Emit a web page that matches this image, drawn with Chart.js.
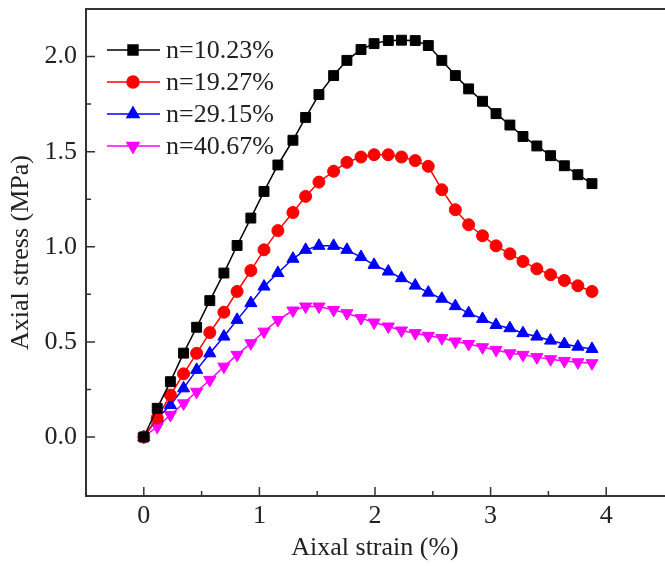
<!DOCTYPE html>
<html>
<head>
<meta charset="utf-8">
<script src="https://cdn.jsdelivr.net/npm/chart.js@4.4.1/dist/chart.umd.min.js"></script>
<style>
html, body { margin: 0; padding: 0; background: #fff; overflow: hidden; }
</style>
</head>
<body>
<canvas id="mychart1" width="672" height="566"></canvas>
<script>
// strain (%) shared by all four curves
const strain = [0, 0.116, 0.23, 0.344, 0.457, 0.571, 0.693, 0.807, 0.926, 1.04,
    1.16, 1.29, 1.40, 1.515, 1.642, 1.757, 1.879, 1.992, 2.115, 2.229,
    2.348, 2.461, 2.578, 2.695, 2.81, 2.93, 3.047, 3.167, 3.28, 3.40,
    3.519, 3.638, 3.755, 3.877];

// axial stress (MPa)
const n1023 = [0, 0.151, 0.291, 0.441, 0.577, 0.717, 0.862, 1.007, 1.151, 1.291,
    1.43, 1.56, 1.68, 1.80, 1.90, 1.98, 2.037, 2.068, 2.084, 2.086,
    2.084, 2.058, 1.98, 1.90, 1.83, 1.765, 1.70, 1.64, 1.58, 1.53,
    1.479, 1.426, 1.379, 1.332];
const n1927 = [0, 0.10, 0.221, 0.332, 0.44, 0.549, 0.656, 0.765, 0.875, 0.984,
    1.085, 1.18, 1.265, 1.34, 1.397, 1.444, 1.472, 1.484, 1.484, 1.472,
    1.453, 1.423, 1.30, 1.195, 1.116, 1.058, 1.005, 0.963, 0.923, 0.884,
    0.853, 0.823, 0.795, 0.765];
const n2915 = [0, 0.098, 0.168, 0.256, 0.353, 0.44, 0.528, 0.616, 0.704, 0.791,
    0.862, 0.937, 0.984, 1.005, 1.005, 0.984, 0.946, 0.905, 0.87, 0.835,
    0.796, 0.759, 0.727, 0.688, 0.651, 0.621, 0.589, 0.572, 0.546, 0.528,
    0.507, 0.489, 0.475, 0.463];
const n4067 = [0, 0.054, 0.116, 0.177, 0.238, 0.30, 0.37, 0.432, 0.493, 0.554,
    0.615, 0.665, 0.686, 0.686, 0.668, 0.651, 0.625, 0.602, 0.581, 0.56,
    0.546, 0.532, 0.52, 0.502, 0.489, 0.472, 0.458, 0.44, 0.432, 0.42,
    0.409, 0.40, 0.393, 0.388];

const names = ['n=10.23%', 'n=19.27%', 'n=29.15%', 'n=40.67%'];
const xTicks = [0, 1, 2, 3, 4];
const xMinor = [0.5, 1.5, 2.5, 3.5];
const yTicks = [0, 0.5, 1.0, 1.5, 2.0];
const yMinor = [0.25, 0.75, 1.25, 1.75];

const FONT = { family: "'Liberation Serif', 'Times New Roman', serif", size: 26 };
const AXIS = '#333';

function pts(ys) {
    return ys.map((v, i) => ({ x: strain[i], y: v }));
}

// left/top/bottom frame with inward ticks
const frame = {
    id: 'frame',
    afterDatasetsDraw(chart) {
        const ctx = chart.ctx;
        const a = chart.chartArea;
        const x = chart.scales.x, y = chart.scales.y;
        ctx.save();
        ctx.strokeStyle = AXIS;
        ctx.lineWidth = 2;
        ctx.beginPath();
        ctx.moveTo(a.right + 5, a.top);
        ctx.lineTo(a.left, a.top);
        ctx.lineTo(a.left, a.bottom);
        ctx.lineTo(a.right + 5, a.bottom);
        ctx.stroke();
        ctx.lineWidth = 1.5;
        ctx.beginPath();
        xTicks.forEach(v => { const p = x.getPixelForValue(v); ctx.moveTo(p, a.bottom); ctx.lineTo(p, a.bottom - 9); });
        xMinor.forEach(v => { const p = x.getPixelForValue(v); ctx.moveTo(p, a.bottom); ctx.lineTo(p, a.bottom - 5); });
        yTicks.forEach(v => { const p = y.getPixelForValue(v); ctx.moveTo(a.left, p); ctx.lineTo(a.left + 9, p); });
        yMinor.forEach(v => { const p = y.getPixelForValue(v); ctx.moveTo(a.left, p); ctx.lineTo(a.left + 5, p); });
        ctx.stroke();
        ctx.restore();
    }
};

// legend in the upper left corner of the plot
const legendBox = {
    id: 'legendBox',
    afterDraw(chart) {
        const ctx = chart.ctx;
        ctx.save();
        chart.data.datasets.forEach((ds, i) => {
            const yy = 50 + i * 32;
            ctx.strokeStyle = ds.borderColor;
            ctx.fillStyle = ds.borderColor;
            ctx.lineWidth = 1.5;
            ctx.beginPath();
            ctx.moveTo(107, yy);
            ctx.lineTo(160, yy);
            ctx.stroke();
            Chart.helpers.drawPoint(ctx, {
                pointStyle: ds.pointStyle,
                rotation: ds.pointRotation || 0,
                radius: ds.pointRadius,
                borderWidth: 1
            }, 133, yy);
            ctx.fillStyle = '#222';
            ctx.font = FONT.size + 'px ' + FONT.family;
            ctx.textAlign = 'left';
            ctx.textBaseline = 'middle';
            ctx.fillText(ds.label, 166, yy + 1);
        });
        ctx.restore();
    }
};

function series(label, ys, color, style, r, rot) {
    return {
        label: label,
        data: pts(ys),
        borderColor: color,
        backgroundColor: color,
        pointBackgroundColor: color,
        pointBorderColor: color,
        pointBorderWidth: 1,
        pointStyle: style,
        pointRadius: r,
        pointRotation: rot || 0,
        borderWidth: 1.5,
        tension: 0
    };
}

new Chart(document.getElementById('mychart1'), {
    type: 'line',
    data: {
        datasets: [
            series(names[0], n1023, '#000000', 'rect', 7),
            series(names[1], n1927, '#ff0000', 'circle', 6),
            series(names[2], n2915, '#0000ff', 'triangle', 7),
            series(names[3], n4067, '#ff00ff', 'triangle', 7, 180),
        ],
    },
    options: {
        responsive: false,
        animation: false,
        layout: { padding: { top: 9, left: 0, right: 0, bottom: 0 } },
        plugins: { legend: { display: false }, tooltip: { enabled: false } },
        scales: {
            x: {
                type: 'linear',
                min: -0.5,
                max: 4.5,
                afterBuildTicks: s => { s.ticks = xTicks.map(v => ({ value: v })); },
                afterFit: s => { s.height = 70; s.paddingLeft = 0; s.paddingRight = 0; },
                grid: { display: false, drawTicks: false },
                border: { display: false },
                ticks: { font: FONT, color: '#222', padding: 5, maxRotation: 0, callback: v => String(v) },
                title: { display: true, text: 'Aixal strain (%)', font: FONT, color: '#222', padding: { top: 0, bottom: 2 } }
            },
            y: {
                min: -0.31,
                max: 2.25,
                afterBuildTicks: s => { s.ticks = yTicks.map(v => ({ value: v })); },
                afterFit: s => { s.width = 86; s.paddingTop = 0; s.paddingBottom = 0; },
                grid: { display: false, drawTicks: false },
                border: { display: false },
                ticks: { font: FONT, color: '#222', padding: 9, callback: v => v.toFixed(1) },
                title: { display: true, text: 'Axial stress (MPa)', font: FONT, color: '#222', padding: { top: 6, bottom: 0 } }
            }
        }
    },
    plugins: [frame, legendBox]
});
</script>
</body>
</html>
